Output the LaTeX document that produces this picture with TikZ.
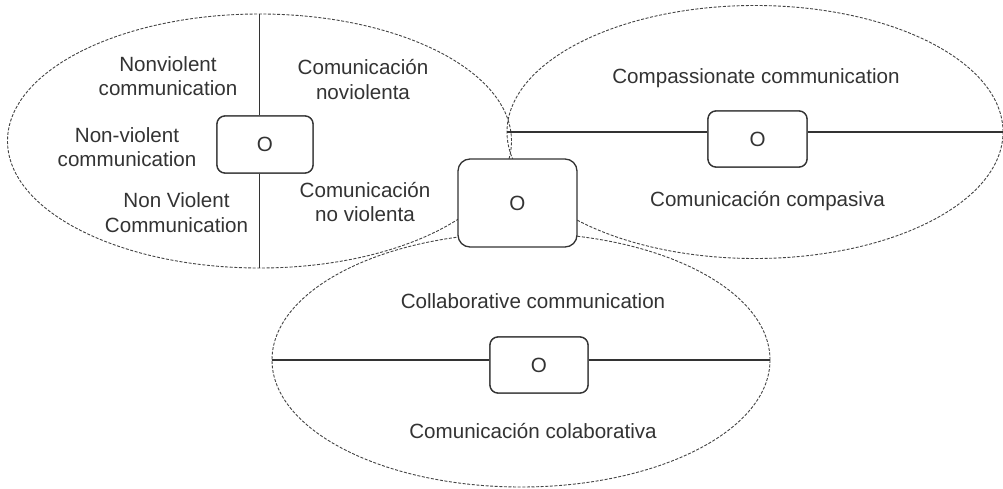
\documentclass[tikz,border=0pt]{standalone}
\usepackage{fontspec}
\setmainfont{Liberation Sans}
\usetikzlibrary{shapes.geometric}
\definecolor{ink}{HTML}{333333}
\definecolor{dash}{HTML}{444444}
\tikzset{
  ell/.style={ellipse, draw=dash, line width=0.9pt, dash pattern=on 3pt off 1.6pt, inner sep=0pt, minimum width=#1},
  conn/.style={draw=ink, line width=1.3pt},
  obox/.style={draw=ink, line width=1.3pt, fill=white, rounded corners=8pt, inner sep=0pt, text=ink},
  lbl/.style={text=ink, align=center, inner sep=0pt},
}
\begin{document}
\begin{tikzpicture}[x=1pt,y=-1pt,font=\fontsize{20.6}{24.3}\selectfont]
\useasboundingbox (0,0) rectangle (1003,489);
\fill[white] (0,0) rectangle (1003,489);
% ellipses
\node[ell=504pt, minimum height=254pt] (lell) at (259.5,141) {};
\node[ell=496pt, minimum height=253pt] (rell) at (755,132) {};
\node[ell=498pt, minimum height=254pt] (bell) at (521,360) {};
% boxes
\node[obox, minimum width=96pt, minimum height=57pt] (lbox) at (265,144.5) {O};
\node[obox, minimum width=99pt, minimum height=56pt] (rbox) at (757.5,139) {O};
\node[obox, minimum width=98pt, minimum height=56pt] (bbox) at (539,365) {O};
% connectors
\draw[conn] (lell.north) -- (lell.north |- lbox.north);
\draw[conn] (lell.north |- lbox.south) -- (lell.south);
\draw[conn] (rell.west) -- (rell.west -| rbox.west);
\draw[conn] (rell.west -| rbox.east) -- (rell.east);
\draw[conn] (bell.west) -- (bell.west -| bbox.west);
\draw[conn] (bell.west -| bbox.east) -- (bell.east);
% redraw boxes on top of lines
\node[obox, minimum width=96pt, minimum height=57pt] at (lbox) {O};
\node[obox, minimum width=99pt, minimum height=56pt] at (rbox) {O};
\node[obox, minimum width=98pt, minimum height=56pt] at (bbox) {O};
\node[obox, rounded corners=12pt, minimum width=119pt, minimum height=88pt] (cbox) at (517.5,203) {O};
% labels
\node[lbl] (t1) at (168,76.3) {Nonviolent\\communication};
\node[lbl] (t2) at (127,146.8) {Non-violent\\communication};
\node[lbl] (t3) at (176.5,212.5) {Non Violent\\Communication};
\node[lbl] (t4) at (363,79.5) {Comunicación\\noviolenta};
\node[lbl] (t5) at (365,202) {Comunicación\\no violenta};
\node[lbl, anchor=base] (t6) at (756,83.3) {Compassionate communication};
\node[lbl, anchor=base] (t7) at (767.5,206) {Comunicación compasiva};
\node[lbl, anchor=base] (t8) at (533,308) {Collaborative communication};
\node[lbl, anchor=base] (t9) at (533,438) {Comunicación colaborativa};
\end{tikzpicture}
\end{document}
